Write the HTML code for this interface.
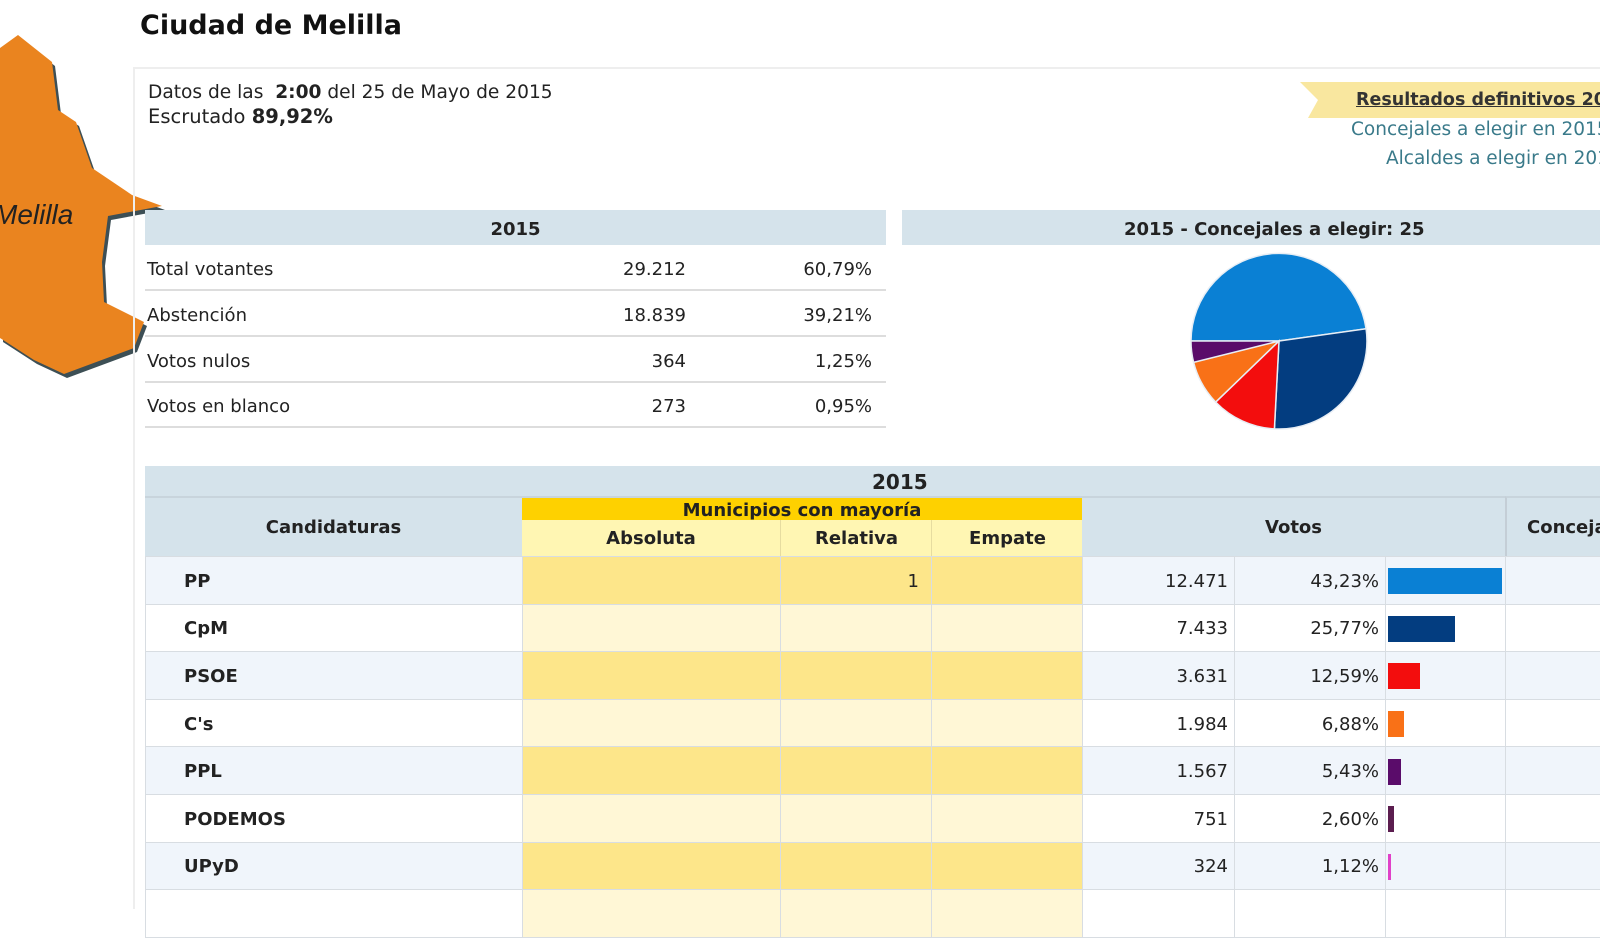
<!DOCTYPE html>
<html><head><meta charset="utf-8"><style>
body{margin:0;width:1600px;height:900px;overflow:hidden;background:#fff;font-family:"DejaVu Sans","Liberation Sans",sans-serif;color:#222;position:relative}
.a{position:absolute;white-space:nowrap}
.hdr{position:absolute;background:#d5e3eb;font-weight:bold;font-size:18px;text-align:center;color:#222}
.row{position:absolute;left:145px;width:741px;height:44px;border-bottom:2px solid #ddd;font-size:18px}
.row span{position:absolute;top:14px}
table{position:absolute;left:145px;top:466px;border-collapse:collapse;font-size:18px;table-layout:fixed}
td{padding:0;border:1px solid #d8dde2;height:47.6px;box-sizing:border-box;padding-top:2px}
.b{font-weight:bold}
</style></head><body>
<svg class="a" style="left:0;top:0" width="170" height="380">
<polygon points="0,48 18,35 52,62 58,110 76,122 92,168 132,195 162,206 108,216 102,262 104,302 124,312 144,322 134,348 64,374 34,360 0,338" fill="#3d4f55" transform="translate(3,4)"/>
<polygon points="0,48 18,35 52,62 58,110 76,122 92,168 132,195 162,206 108,216 102,262 104,302 124,312 144,322 134,348 64,374 34,360 0,338" fill="#ea841f"/>
<text x="-6" y="224" font-family="Liberation Sans, sans-serif" font-style="italic" font-size="28" fill="#222">Melilla</text>
</svg>
<div class="a b" style="left:140px;top:10px;font-size:27px;color:#111">Ciudad de Melilla</div>
<div class="a" style="left:133px;top:67px;width:1470px;height:840px;border-left:2px solid #eee;border-top:2px solid #eee"></div>
<div class="a" style="left:148px;top:82px;font-size:18.6px">Datos de las &nbsp;<b>2:00</b> del 25 de Mayo de 2015</div>
<div class="a" style="left:148px;top:105px;font-size:19.5px">Escrutado <b>89,92%</b></div>
<svg class="a" style="left:1300px;top:82px" width="300" height="36"><polygon points="0,0 300,0 300,36 8,36 18,18" fill="#f9e79f"/></svg>
<div class="a b" style="left:1356px;top:90px;font-size:17.5px;text-decoration:underline;color:#333">Resultados definitivos 2015</div>
<div class="a" style="left:1351px;top:119px;font-size:18.5px;color:#3a7a8a">Concejales a elegir en 2015</div>
<div class="a" style="left:1386px;top:148px;font-size:18.5px;color:#3a7a8a">Alcaldes a elegir en 2015</div>

<div class="hdr" style="left:145px;top:210px;width:741px;height:35px;line-height:40px">2015</div>
<div class="row" style="top:245px"><span style="left:2px">Total votantes</span><span style="right:200px">29.212</span><span style="right:14px">60,79%</span></div>
<div class="row" style="top:291px"><span style="left:2px">Abstención</span><span style="right:200px">18.839</span><span style="right:14px">39,21%</span></div>
<div class="row" style="top:337px"><span style="left:2px">Votos nulos</span><span style="right:200px">364</span><span style="right:14px">1,25%</span></div>
<div class="row" style="top:382px"><span style="left:2px">Votos en blanco</span><span style="right:200px">273</span><span style="right:14px">0,95%</span></div>

<div class="hdr" style="left:902px;top:210px;width:698px;height:35px;line-height:40px;text-align:left"><span style="position:absolute;left:222px">2015 - Concejales a elegir: 25</span></div>
<svg class="a" style="left:0;top:0" width="1600" height="900">
<g stroke="#e8eef5" stroke-width="1.5">
<path d="M1279,341 L1191,341 A88,88 0 0 1 1366.1,328.8 Z" fill="#0a80d4"/>
<path d="M1279,341 L1366.1,328.8 A88,88 0 0 1 1274.4,428.9 Z" fill="#033d80"/>
<path d="M1279,341 L1274.4,428.9 A88,88 0 0 1 1215.7,402.1 Z" fill="#f30d0d"/>
<path d="M1279,341 L1215.7,402.1 A88,88 0 0 1 1193.6,362.3 Z" fill="#f97117"/>
<path d="M1279,341 L1193.6,362.3 A88,88 0 0 1 1191,341 Z" fill="#5a0c6a"/>
</g></svg>

<div class="hdr" style="left:145px;top:466px;width:1455px;height:30px;line-height:32px;font-size:20px;text-align:left"><span style="position:absolute;left:727px">2015</span></div>
<div class="hdr" style="left:145px;top:496px;width:377px;height:60px;line-height:60px;border-top:2px solid #c8d4dc">Candidaturas</div>
<div class="hdr" style="left:522px;top:496px;width:560px;height:24px;line-height:25px;background:#fed100;border-top:2px solid #c8d4dc">Municipios con mayoría</div>
<div class="hdr" style="left:522px;top:520px;width:258px;height:36px;line-height:38px;background:#fff6b3">Absoluta</div>
<div class="hdr" style="left:780px;top:520px;width:151px;height:36px;line-height:38px;background:#fff6b3;border-left:1px solid #e6dca0">Relativa</div>
<div class="hdr" style="left:931px;top:520px;width:151px;height:36px;line-height:38px;background:#fff6b3;border-left:1px solid #e6dca0">Empate</div>
<div class="hdr" style="left:1082px;top:496px;width:423px;height:60px;line-height:60px;border-top:2px solid #c8d4dc">Votos</div>
<div class="hdr" style="left:1505px;top:496px;width:95px;height:60px;line-height:60px;border-top:2px solid #c8d4dc;border-left:2px solid #c4ced6;text-align:left"><span style="padding-left:20px">Concejales</span></div>

<table style="top:556px;width:1455px">
<colgroup><col style="width:377px"><col style="width:258px"><col style="width:151px"><col style="width:151px"><col style="width:152px"><col style="width:151px"><col style="width:120px"><col style="width:95px"></colgroup>
<tr style="background:#f0f5fb"><td class="b" style="padding-left:38px">PP</td><td style="background:#fde68a"></td><td style="background:#fde68a;text-align:right;padding-right:12px">1</td><td style="background:#fde68a"></td><td style="text-align:right;padding-right:6px">12.471</td><td style="text-align:right;padding-right:6px">43,23%</td><td><div style="width:114px;height:26px;background:#0a80d4;margin-left:2px"></div></td><td></td></tr>
<tr style="background:#fff"><td class="b" style="padding-left:38px">CpM</td><td style="background:#fff7d6"></td><td style="background:#fff7d6"></td><td style="background:#fff7d6"></td><td style="text-align:right;padding-right:6px">7.433</td><td style="text-align:right;padding-right:6px">25,77%</td><td><div style="width:67px;height:26px;background:#033d80;margin-left:2px"></div></td><td></td></tr>
<tr style="background:#f0f5fb"><td class="b" style="padding-left:38px">PSOE</td><td style="background:#fde68a"></td><td style="background:#fde68a"></td><td style="background:#fde68a"></td><td style="text-align:right;padding-right:6px">3.631</td><td style="text-align:right;padding-right:6px">12,59%</td><td><div style="width:32px;height:26px;background:#f30d0d;margin-left:2px"></div></td><td></td></tr>
<tr style="background:#fff"><td class="b" style="padding-left:38px">C's</td><td style="background:#fff7d6"></td><td style="background:#fff7d6"></td><td style="background:#fff7d6"></td><td style="text-align:right;padding-right:6px">1.984</td><td style="text-align:right;padding-right:6px">6,88%</td><td><div style="width:16px;height:26px;background:#f97117;margin-left:2px"></div></td><td></td></tr>
<tr style="background:#f0f5fb"><td class="b" style="padding-left:38px">PPL</td><td style="background:#fde68a"></td><td style="background:#fde68a"></td><td style="background:#fde68a"></td><td style="text-align:right;padding-right:6px">1.567</td><td style="text-align:right;padding-right:6px">5,43%</td><td><div style="width:13px;height:26px;background:#5a0c6a;margin-left:2px"></div></td><td></td></tr>
<tr style="background:#fff"><td class="b" style="padding-left:38px">PODEMOS</td><td style="background:#fff7d6"></td><td style="background:#fff7d6"></td><td style="background:#fff7d6"></td><td style="text-align:right;padding-right:6px">751</td><td style="text-align:right;padding-right:6px">2,60%</td><td><div style="width:6px;height:26px;background:#5b1d4f;margin-left:2px"></div></td><td></td></tr>
<tr style="background:#f0f5fb"><td class="b" style="padding-left:38px">UPyD</td><td style="background:#fde68a"></td><td style="background:#fde68a"></td><td style="background:#fde68a"></td><td style="text-align:right;padding-right:6px">324</td><td style="text-align:right;padding-right:6px">1,12%</td><td><div style="width:3px;height:26px;background:#e040c8;margin-left:2px"></div></td><td></td></tr>
<tr style="background:#fff"><td></td><td style="background:#fff7d6"></td><td style="background:#fff7d6"></td><td style="background:#fff7d6"></td><td></td><td></td><td></td><td></td></tr>
</table>
</body></html>
